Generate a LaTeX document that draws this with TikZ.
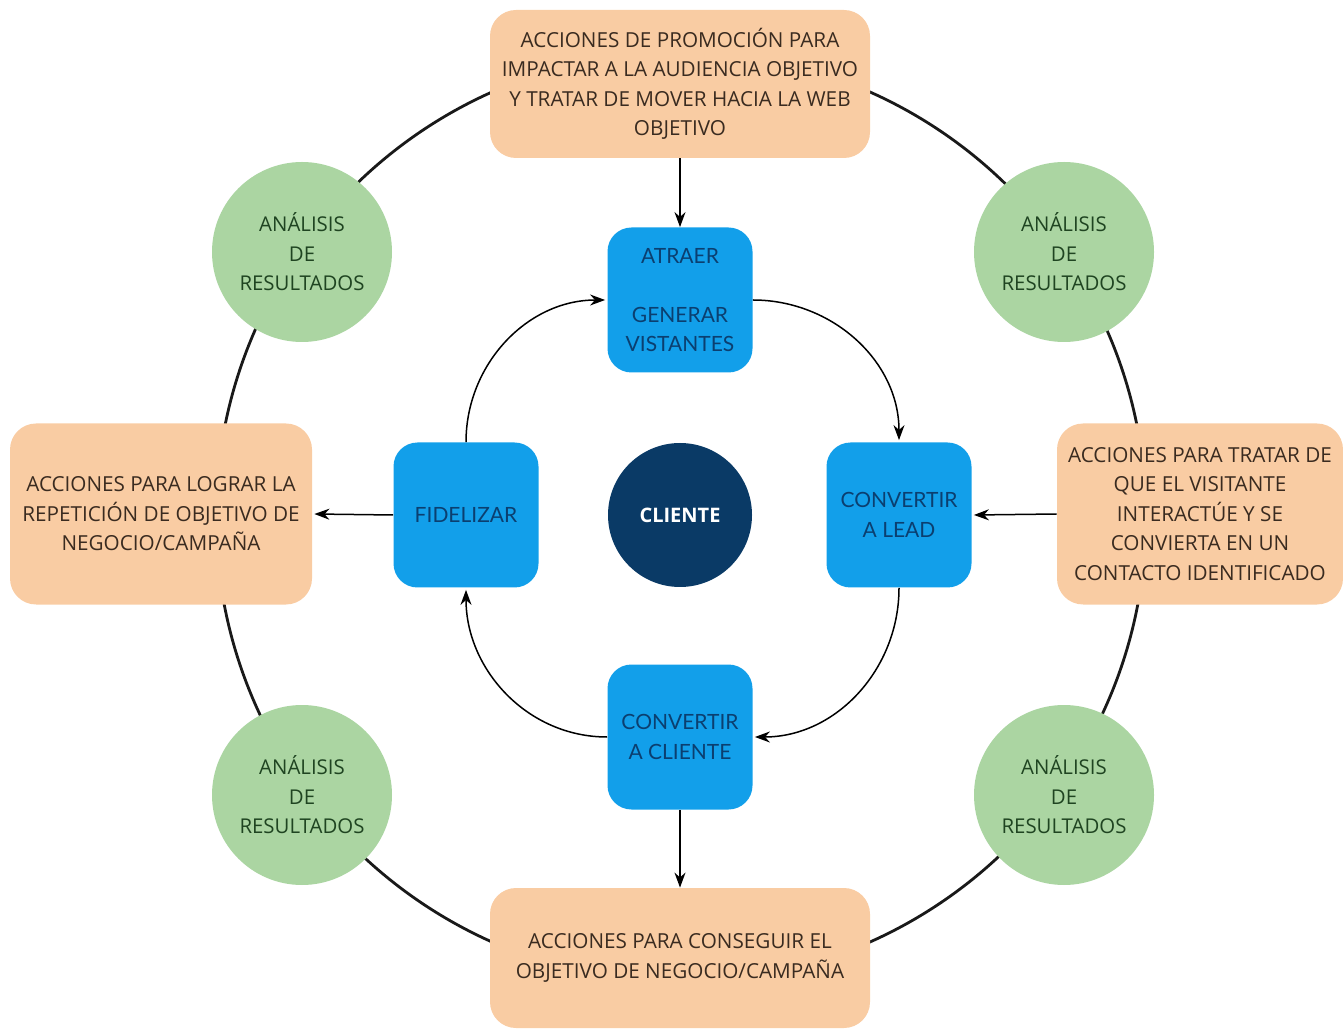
\documentclass[tikz,border=0pt]{standalone}
\usepackage{fontspec}
\setmainfont{Open Sans}
\newfontfamily\boxfont{Lato}
\usetikzlibrary{arrows.meta}

\definecolor{peach}{HTML}{F9CCA3}
\definecolor{peachtext}{HTML}{3A2B20}
\definecolor{sage}{HTML}{ABD5A2}
\definecolor{sagetext}{HTML}{1F4421}
\definecolor{skyblue}{HTML}{129FEA}
\definecolor{skytext}{HTML}{0B3F70}
\definecolor{navy}{HTML}{0A3A66}

\tikzset{
  action/.style={fill=peach, rounded corners=13pt, align=center,
    text=peachtext, font=\fontsize{10.35}{14.75}\selectfont, inner sep=0pt},
  review/.style={circle, fill=sage, minimum size=90pt, align=center,
    text=sagetext, font=\fontsize{10.2}{14.75}\selectfont, inner sep=0pt},
  stage/.style={fill=skyblue, rounded corners=12pt, minimum width=72.5pt,
    minimum height=72.5pt, align=center, text=skytext,
    font=\boxfont\fontsize{10.5}{14.75}\selectfont, inner sep=0pt},
  hub/.style={circle, fill=navy, minimum size=72pt, text=white,
    font=\bfseries\fontsize{10}{12}\selectfont, inner sep=0pt},
  ring/.style={line width=1.4pt, black!90},
  flow/.style={line width=0.75pt, -{Stealth[length=7.5pt, width=5.5pt]}},
}

\begin{document}
\begin{tikzpicture}[x=0.5pt, y=0.5pt]
  \useasboundingbox (0,0) rectangle (1343,1029);

  % outer cycle of actions
  \coordinate (ringc) at (681,512);
  \draw[ring] (ringc) circle[radius=232.5pt];

  % action boxes on the ring
  \node[action, minimum width=190pt, minimum height=74pt] (promo) at (680,945)
    {ACCIONES DE PROMOCIÓN PARA\\IMPACTAR A LA AUDIENCIA OBJETIVO\\Y TRATAR DE MOVER HACIA LA WEB\\OBJETIVO};
  \node[action, minimum width=190pt, minimum height=70pt] (goal) at (680,71)
    {ACCIONES PARA CONSEGUIR EL\\OBJETIVO DE NEGOCIO/CAMPAÑA};
  \node[action, minimum width=151pt, minimum height=90.5pt] (repeat) at (161,515)
    {ACCIONES PARA LOGRAR LA\\REPETICIÓN DE OBJETIVO DE\\NEGOCIO/CAMPAÑA};
  \node[action, minimum width=143pt, minimum height=90.5pt] (contact) at (1200,515)
    {ACCIONES PARA TRATAR DE\\QUE EL VISITANTE\\INTERACTÚE Y SE\\CONVIERTA EN UN\\CONTACTO IDENTIFICADO};

  % review circles on the ring
  \node[review] (revtl) at (302,777) {ANÁLISIS\\DE\\RESULTADOS};
  \node[review] (revtr) at (1064,777) {ANÁLISIS\\DE\\RESULTADOS};
  \node[review] (revbl) at (302,234) {ANÁLISIS\\DE\\RESULTADOS};
  \node[review] (revbr) at (1064,234) {ANÁLISIS\\DE\\RESULTADOS};

  % inner stages
  \node[stage] (attract) at (680,729) {ATRAER\\[14.75pt]GENERAR\\VISTANTES};
  \node[stage] (lead) at (899,514) {CONVERTIR\\A LEAD};
  \node[stage] (client) at (680,292) {CONVERTIR\\A CLIENTE};
  \node[stage] (loyal) at (466,514) {FIDELIZAR};
  \node[hub] (hub) at (680,514) {CLIENTE};

  % straight links between actions and stages
  \draw[flow] (promo.south) -- (attract.north);
  \draw[flow] (client.south) -- (goal.north);
  \draw[flow] (contact.west) -- ([xshift=1pt]lead.east);
  \draw[flow] (loyal.west) -- ([xshift=1pt]repeat.east);

  % inner cycle of stages
  \draw[flow] (attract.east) to[out=0, in=90] ([yshift=1pt]lead.north);
  \draw[flow] (lead.south) to[out=-90, in=0] ([xshift=1pt]client.east);
  \draw[flow] (client.west) to[out=180, in=-90] ([yshift=-1pt]loyal.south);
  \draw[flow] (loyal.north) to[out=90, in=180] ([xshift=-1pt]attract.west);
\end{tikzpicture}
\end{document}
